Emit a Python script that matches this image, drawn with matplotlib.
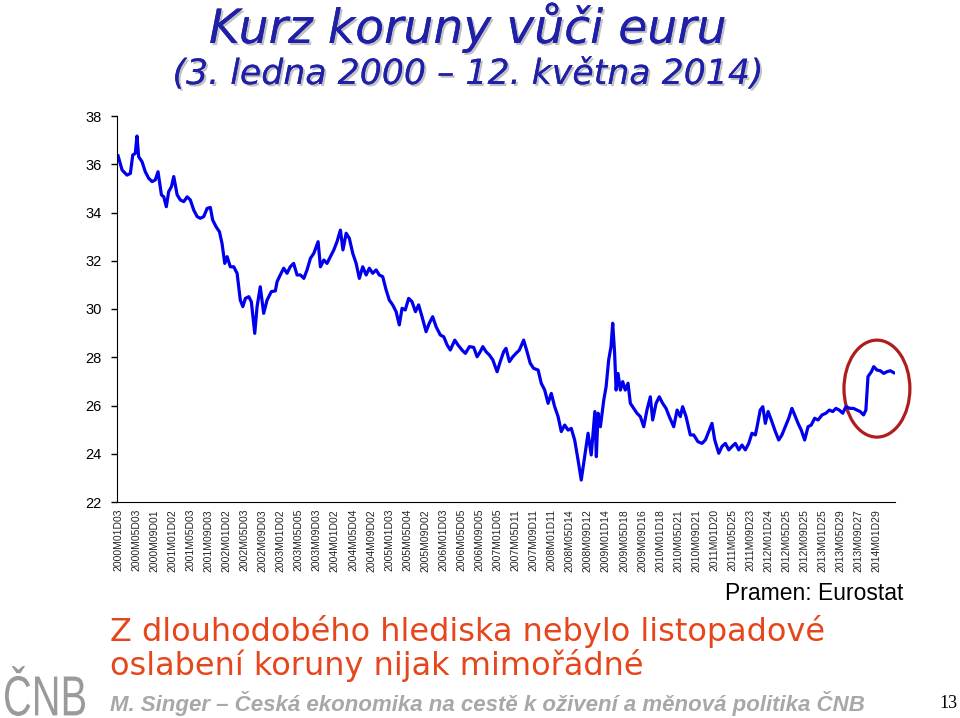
'''
Kurz koruny vuci euru, 2000 - 2014 (denni data, Eurostat).
'''

import matplotlib as mpl
import matplotlib.pyplot as plt
import matplotlib.patheffects as pe
from matplotlib.patches import Ellipse, PathPatch
from matplotlib.textpath import TextPath
from matplotlib.font_manager import FontProperties
from matplotlib.transforms import Affine2D

mpl.rcParams['font.family'] = ['DejaVu Sans']

# poradi pozorovani (obchodni dny od 3.1.2000) a kurz CZK/EUR
obs = [0, 19, 42, 58, 69, 81, 89, 97, 113, 128, 144, 160, 175, 188, 204, 215, 227, 238, 251, 262,
       278, 293, 309, 325, 340, 356, 372, 387, 403, 419, 434, 445, 461, 477, 489, 502, 513, 528, 544, 560,
       575, 587, 599, 615, 627, 643, 654, 669, 685, 701, 721, 740, 748, 763, 779, 795, 810, 826, 842, 858,
       874, 889, 905, 921, 941, 952, 968, 983, 999, 1015, 1030, 1046, 1058, 1073, 1088, 1104, 1120, 1135, 1151, 1167,
       1182, 1198, 1214, 1229, 1245, 1261, 1276, 1292, 1308, 1323, 1336, 1351, 1367, 1383, 1399, 1414, 1430, 1449, 1464, 1480,
       1496, 1516, 1532, 1548, 1563, 1584, 1599, 1618, 1634, 1653, 1673, 1689, 1704, 1716, 1731, 1747, 1763, 1783, 1798, 1814,
       1825, 1841, 1857, 1872, 1888, 1908, 1924, 1939, 1955, 1976, 1991, 2007, 2023, 2038, 2054, 2070, 2085, 2101, 2117, 2132,
       2148, 2164, 2179, 2195, 2211, 2226, 2236, 2243, 2250, 2258, 2269, 2285, 2296, 2308, 2319, 2327, 2336, 2343, 2352, 2363,
       2374, 2386, 2399, 2410, 2426, 2441, 2457, 2473, 2488, 2504, 2515, 2531, 2546, 2562, 2578, 2593, 2614, 2630, 2645, 2656,
       2672, 2692, 2708, 2728, 2747, 2763, 2779, 2794, 2807, 2826, 2841, 2857, 2873, 2888, 2904, 2920, 2935, 2951, 2967, 2982,
       2998, 3006, 3021, 3033, 3045, 3058, 3073, 3092, 3108, 3123, 3139, 3155, 3170, 3183, 3199, 3214, 3230, 3246, 3261, 3277,
       3293, 3312, 3330, 3346, 3362, 3377, 3393, 3409, 3424, 3444, 3460, 3476, 3491, 3507, 3518, 3528, 3544, 3555, 3570, 3586,
       3602, 3617, 3633, 3649]
kurz = [36.35, 35.76, 35.55, 35.62, 36.38, 36.45, 37.17, 36.31, 36.10, 35.69, 35.42, 35.28, 35.35, 35.69, 34.73, 34.65, 34.24, 34.86, 35.07, 35.49,
        34.73, 34.52, 34.45, 34.65, 34.52, 34.10, 33.83, 33.76, 33.83, 34.17, 34.21, 33.69, 33.41, 33.20, 32.72, 31.89, 32.17, 31.75, 31.75, 31.48,
        30.37, 30.10, 30.44, 30.51, 30.30, 28.99, 30.10, 30.92, 29.82, 30.37, 30.72, 30.75, 31.13, 31.41, 31.69, 31.48, 31.75, 31.89, 31.41, 31.41,
        31.27, 31.62, 32.10, 32.31, 32.79, 31.75, 32.03, 31.89, 32.17, 32.45, 32.79, 33.27, 32.45, 33.14, 32.93, 32.31, 31.89, 31.27, 31.75, 31.41,
        31.69, 31.48, 31.62, 31.41, 31.34, 30.79, 30.37, 30.17, 29.89, 29.34, 30.03, 29.96, 30.44, 30.30, 29.89, 30.17, 29.68, 29.06, 29.41, 29.68,
        29.27, 28.92, 28.85, 28.51, 28.30, 28.71, 28.51, 28.30, 28.16, 28.44, 28.41, 28.02, 28.23, 28.44, 28.23, 28.09, 27.89, 27.40, 27.82, 28.23,
        28.37, 27.82, 28.02, 28.16, 28.30, 28.71, 28.23, 27.75, 27.54, 27.47, 26.92, 26.64, 26.09, 26.50, 25.95, 25.54, 24.92, 25.19, 24.98, 25.05,
        24.57, 23.74, 22.91, 23.88, 24.85, 23.95, 25.00, 25.75, 23.88, 25.68, 25.12, 26.23, 26.78, 27.89, 28.44, 29.41, 28.16, 26.64, 27.33, 26.64,
        26.99, 26.64, 26.92, 26.09, 25.88, 25.68, 25.54, 25.12, 25.81, 26.36, 25.40, 26.09, 26.36, 26.09, 25.88, 25.54, 25.12, 25.81, 25.54, 25.95,
        25.54, 24.78, 24.78, 24.50, 24.43, 24.57, 24.92, 25.26, 24.57, 24.02, 24.30, 24.43, 24.16, 24.30, 24.43, 24.16, 24.36, 24.16, 24.43, 24.85,
        24.78, 25.12, 25.81, 25.95, 25.26, 25.75, 25.40, 24.92, 24.57, 24.78, 25.12, 25.47, 25.88, 25.61, 25.26, 24.98, 24.57, 25.12, 25.19, 25.47,
        25.40, 25.61, 25.68, 25.81, 25.75, 25.88, 25.81, 25.68, 25.95, 25.88, 25.88, 25.81, 25.75, 25.61, 25.81, 27.20, 27.40, 27.61, 27.47, 27.44,
        27.33, 27.40, 27.44, 27.36]

# popisky osy x (kazde 85. pozorovani)
tick_labels = ['2000M01D03', '2000M05D03', '2000M09D01', '2001M01D02', '2001M05D03', '2001M09D03',
               '2002M01D02', '2002M05D03', '2002M09D03', '2003M01D02', '2003M05D05', '2003M09D03',
               '2004M01D02', '2004M05D04', '2004M09D02', '2005M01D03', '2005M05D04', '2005M09D02',
               '2006M01D03', '2006M05D05', '2006M09D05', '2007M01D05', '2007M05D11', '2007M09D11',
               '2008M01D11', '2008M05D14', '2008M09D12', '2009M01D14', '2009M05D18', '2009M09D16',
               '2010M01D18', '2010M05D21', '2010M09D21', '2011M01D20', '2011M05D25', '2011M09D23',
               '2012M01D24', '2012M05D25', '2012M09D25', '2013M01D25', '2013M05D29', '2013M09D27',
               '2014M01D29']
TICK_STEP = 85


fig = plt.figure(figsize=(9.6, 7.18), dpi=100)
ax = fig.add_axes([117/960, 1 - 502/718, (895-117)/960, (502-116)/718])

ax.plot(obs, kurz, color='#0000ee', lw=2.3, solid_joinstyle='round')

ax.set_xlim(-5, 3655)
ax.set_ylim(22, 38)
ax.set_yticks(range(22, 39, 2))
ax.set_xticks([i*TICK_STEP for i in range(len(tick_labels))])
ax.set_xticklabels(tick_labels, rotation=90, family='Liberation Sans', fontsize=7.5, color='#222222')
ax.tick_params(axis='x', length=0, pad=5)
ax.tick_params(axis='y', length=4, width=1, labelsize=10.5, pad=7)
for lab in ax.get_yticklabels():
	lab.set_family('Liberation Sans')
ax.spines['top'].set_visible(False)
ax.spines['right'].set_visible(False)

# cervena elipsa kolem listopadove intervence
ax.add_patch(Ellipse((3570, 26.70), 310, 4.02, fill=False, ec='#b01c1c', lw=2.3, clip_on=False))

# nadpisy se stinem
shadow = [pe.withSimplePatchShadow(offset=(1.5, -1.5), shadow_rgbFace='#999999', alpha=0.6), pe.Normal()]
fig.text(468/960, 1 - 28/718, 'Kurz koruny vůči euru', ha='center', va='center', fontsize=34,
         style='italic', color='#1f1fa8', path_effects=shadow)
fig.text(468/960, 1 - 74/718, '(3. ledna 2000 – 12. května 2014)', ha='center', va='center', fontsize=25,
         style='italic', color='#1f1fa8', path_effects=shadow)

fig.text(903/960, 1 - 593/718, 'Pramen: Eurostat', ha='right', va='center', fontsize=16.5, family='Liberation Sans')

fig.text(110/960, 1 - 632/718, 'Z dlouhodobého hlediska nebylo listopadové', ha='left', va='center',
         fontsize=23, color='#e5461c')
fig.text(110/960, 1 - 666/718, 'oslabení koruny nijak mimořádné', ha='left', va='center',
         fontsize=23, color='#e5461c')

fig.text(110/960, 1 - 703/718, 'M. Singer – Česká ekonomika na cestě k oživení a měnová politika ČNB', ha='left',
         va='center', fontsize=16, style='italic', weight='bold', color='#a8a8a8', family='Liberation Sans')
fig.text(948/960, 1 - 703/718, '13', ha='center', va='center', fontsize=13, family='Liberation Serif')

# logo CNB - zuzene pismo
tp = TextPath((0, 0), 'ČNB', size=50, prop=FontProperties(family='Liberation Sans'))
bb = tp.get_extents()
sx = 80 / bb.width
sy = 50 / (bb.height)
logo = PathPatch(tp, transform=Affine2D().translate(-bb.x0, -bb.y0).scale(sx, sy).translate(5, 718 - 716),
                 fc='#9a9a9a', ec='none')
fig.add_artist(logo)

fig.savefig('out.png', dpi=100)
